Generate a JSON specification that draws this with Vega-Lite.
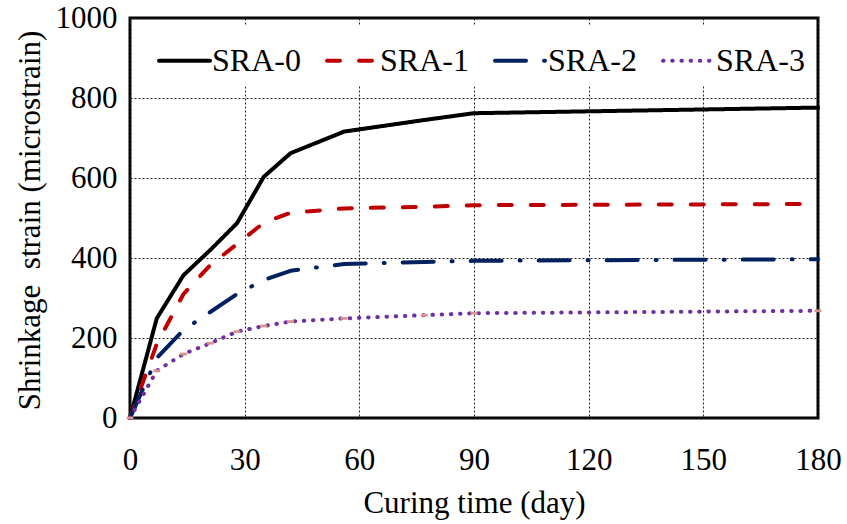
{
  "$schema": "https://vega.github.io/schema/vega-lite/v6.json",
  "width": 688,
  "height": 400,
  "autosize": {"type": "none"},
  "padding": {"left": 130, "top": 18, "right": 29, "bottom": 106},
  "background": "white",
  "config": {
    "font": "Liberation Serif",
    "view": {"stroke": "black", "strokeWidth": 3},
    "axis": {
      "labelFont": "Liberation Serif",
      "labelFontSize": 31,
      "labelColor": "black",
      "labelFlush": false,
      "titleFont": "Liberation Serif",
      "titleFontSize": 31,
      "titleFontWeight": "normal",
      "titleColor": "black",
      "ticks": false,
      "domain": false,
      "grid": true,
      "gridColor": "#222222",
      "gridDash": [2, 2],
      "gridWidth": 1,
      "gridOpacity": 1
    },
    "legend": {
      "orient": "none",
      "legendX": 19,
      "legendY": 7,
      "direction": "horizontal",
      "title": null,
      "symbolType": "stroke",
      "symbolSize": 2601,
      "symbolStrokeWidth": 4,
      "labelFont": "Liberation Serif",
      "labelFontSize": 32,
      "labelColor": "black",
      "labelOffset": 0,
      "columnPadding": 18,
      "padding": 8,
      "fillColor": "white",
      "strokeColor": null
    }
  },
  "data": {
    "values": [
      {"day": 0, "series": "SRA-0", "strain": 0},
      {"day": 7, "series": "SRA-0", "strain": 249},
      {"day": 14, "series": "SRA-0", "strain": 357},
      {"day": 21, "series": "SRA-0", "strain": 420},
      {"day": 28, "series": "SRA-0", "strain": 487},
      {"day": 35, "series": "SRA-0", "strain": 603},
      {"day": 42, "series": "SRA-0", "strain": 662},
      {"day": 56, "series": "SRA-0", "strain": 716},
      {"day": 77, "series": "SRA-0", "strain": 745},
      {"day": 90, "series": "SRA-0", "strain": 762},
      {"day": 180, "series": "SRA-0", "strain": 776},
      {"day": 0, "series": "SRA-1", "strain": 0},
      {"day": 7, "series": "SRA-1", "strain": 185},
      {"day": 14, "series": "SRA-1", "strain": 310},
      {"day": 21, "series": "SRA-1", "strain": 382},
      {"day": 28, "series": "SRA-1", "strain": 435},
      {"day": 35, "series": "SRA-1", "strain": 488},
      {"day": 42, "series": "SRA-1", "strain": 513},
      {"day": 56, "series": "SRA-1", "strain": 524},
      {"day": 77, "series": "SRA-1", "strain": 528},
      {"day": 90, "series": "SRA-1", "strain": 532},
      {"day": 180, "series": "SRA-1", "strain": 535},
      {"day": 0, "series": "SRA-2", "strain": 0},
      {"day": 7, "series": "SRA-2", "strain": 150},
      {"day": 14, "series": "SRA-2", "strain": 220},
      {"day": 21, "series": "SRA-2", "strain": 265},
      {"day": 28, "series": "SRA-2", "strain": 310},
      {"day": 35, "series": "SRA-2", "strain": 345},
      {"day": 42, "series": "SRA-2", "strain": 368},
      {"day": 56, "series": "SRA-2", "strain": 385},
      {"day": 77, "series": "SRA-2", "strain": 390},
      {"day": 90, "series": "SRA-2", "strain": 393},
      {"day": 180, "series": "SRA-2", "strain": 397},
      {"day": 0, "series": "SRA-3", "strain": 0},
      {"day": 7, "series": "SRA-3", "strain": 118},
      {"day": 14, "series": "SRA-3", "strain": 160},
      {"day": 21, "series": "SRA-3", "strain": 187},
      {"day": 28, "series": "SRA-3", "strain": 216},
      {"day": 35, "series": "SRA-3", "strain": 230},
      {"day": 42, "series": "SRA-3", "strain": 241},
      {"day": 56, "series": "SRA-3", "strain": 249},
      {"day": 77, "series": "SRA-3", "strain": 257},
      {"day": 90, "series": "SRA-3", "strain": 262},
      {"day": 180, "series": "SRA-3", "strain": 268}
    ]
  },
  "layer": [
    {
      "mark": {"type": "line", "strokeWidth": 4, "strokeCap": "round", "strokeJoin": "round"},
      "encoding": {
        "x": {
          "field": "day",
          "type": "quantitative",
          "scale": {"domain": [0, 180], "nice": false},
          "axis": {
            "values": [0, 30, 60, 90, 120, 150, 180],
            "format": "d",
            "title": "Curing time (day)",
            "labelPadding": 27,
            "titleBaseline": "alphabetic",
            "titleY": 94
          }
        },
        "y": {
          "field": "strain",
          "type": "quantitative",
          "scale": {"domain": [0, 1000], "nice": false},
          "axis": {
            "values": [0, 200, 400, 600, 800, 1000],
            "format": "d",
            "title": "Shrinkage\u00a0 strain (microstrain)",
            "labelPadding": 13,
            "titleBaseline": "alphabetic",
            "titleX": -91,
            "titleY": 202
          }
        },
        "color": {
          "field": "series",
          "type": "nominal",
          "scale": {
            "domain": ["SRA-0", "SRA-1", "SRA-2", "SRA-3"],
            "range": ["#000000", "#C00000", "#002060", "#7030A0"]
          },
          "legend": {"encode": {"symbols": {"update": {"strokeCap": {"value": "round"}}}}}
        },
        "strokeDash": {
          "field": "series",
          "type": "nominal",
          "scale": {
            "domain": ["SRA-0", "SRA-1", "SRA-2", "SRA-3"],
            "range": [[1, 0], [13, 19], [31, 18, 1, 18], [0.5, 8.7]]
          },
          "legend": {"encode": {"symbols": {"update": {"strokeCap": {"value": "round"}}}}}
        }
      }
    },
    {
      "transform": [{"filter": "datum.series === 'SRA-3'"}],
      "mark": {
        "type": "point",
        "shape": "M-1,-0.4H1V0.4H-1Z",
        "filled": true,
        "size": 49,
        "color": "#D8958F",
        "opacity": 1
      },
      "encoding": {
        "x": {"field": "day", "type": "quantitative"},
        "y": {"field": "strain", "type": "quantitative"}
      }
    }
  ]
}
